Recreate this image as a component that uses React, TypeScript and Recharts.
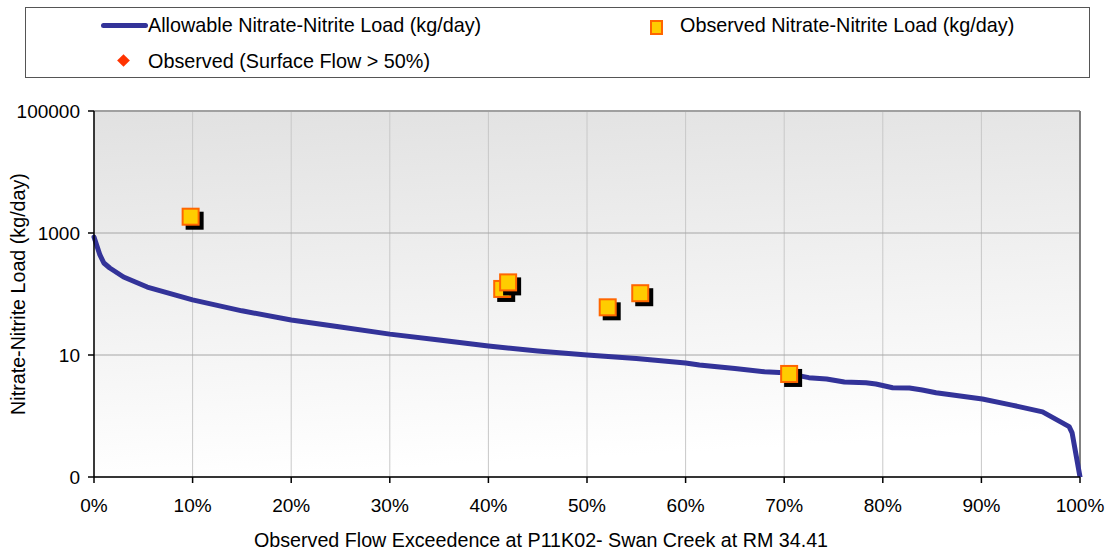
import React from "react";
import {
  ComposedChart,
  Line,
  Scatter,
  XAxis,
  YAxis,
  CartesianGrid,
  ReferenceLine,
} from "recharts";

// allowable load curve (flow exceedence fraction, kg/day)
const curvePct = [
  0, 0.003, 0.006, 0.01, 0.016, 0.03, 0.054, 0.1, 0.15, 0.2, 0.25, 0.3, 0.35, 0.4, 0.45, 0.5,
  0.55, 0.6, 0.614, 0.65, 0.68, 0.7, 0.725, 0.743, 0.761, 0.783, 0.793, 0.81, 0.827, 0.84,
  0.854, 0.901, 0.931, 0.962, 0.989, 0.992, 1.0,
];
const curveLoad = [
  859, 612, 437, 322, 267, 190, 130, 80, 53, 37.5, 28.8, 22, 17.6, 14, 11.6, 10,
  8.8, 7.4, 6.86, 6.0, 5.3, 5.1, 4.25, 4.05, 3.61, 3.51, 3.35, 2.91, 2.88, 2.67,
  2.41, 1.9, 1.51, 1.17, 0.67, 0.53, 0.1,
];

// observed loads
const obsPct = [0.098, 0.414, 0.42, 0.521, 0.554, 0.705];
const obsLoad = [1850, 121, 155, 60.5, 103, 4.89];

const xTicks = [0, 0.1, 0.2, 0.3, 0.4, 0.5, 0.6, 0.7, 0.8, 0.9, 1];
const yTicks = [0.1, 10, 1000, 100000];

const legendLabels = [
  "Allowable Nitrate-Nitrite Load (kg/day)",
  "Observed Nitrate-Nitrite Load (kg/day)",
  "Observed (Surface Flow > 50%)",
];

const curveData = curvePct.map((x, i) => ({ x, y: curveLoad[i] }));
const obsData = obsPct.map((x, i) => ({ x, y: obsLoad[i] }));

const FONT = "'Liberation Sans', Arial, sans-serif";

function ObsSquare(props: any) {
  const { cx, cy } = props;
  if (cx == null || cy == null) return null;
  return (
    <g>
      <rect x={cx - 5} y={cy - 5} width={18} height={18} fill="#000" />
      <rect x={cx - 8} y={cy - 8} width={16} height={16} fill="#FFCC00" stroke="#FF6600" strokeWidth={2} />
    </g>
  );
}

function LegendBox() {
  const txt: React.CSSProperties = {
    position: "absolute",
    fontSize: 19.8,
    color: "#000",
    whiteSpace: "nowrap",
    lineHeight: "22px",
  };
  return (
    <div
      style={{
        position: "absolute",
        left: 25,
        top: 7,
        width: 1063,
        height: 69,
        border: "1px solid #555",
        background: "#fff",
        fontFamily: FONT,
      }}
    >
      <div style={{ position: "absolute", left: 75, top: 15, width: 47, height: 5, borderRadius: 3, background: "#333399" }} />
      <div style={{ ...txt, left: 122, top: 6 }}>{legendLabels[0]}</div>
      <div style={{ position: "absolute", left: 624, top: 12, width: 9, height: 11, background: "#FFCC00", border: "2px solid #FF6600" }} />
      <div style={{ ...txt, left: 654, top: 6 }}>{legendLabels[1]}</div>
      <div
        style={{
          position: "absolute",
          left: 93,
          top: 48,
          width: 9,
          height: 9,
          background: "#FF3300",
          transform: "rotate(45deg)",
        }}
      />
      <div style={{ ...txt, left: 122, top: 42 }}>{legendLabels[2]}</div>
    </div>
  );
}

export default function App() {
  return (
    <div style={{ position: "relative", width: 1113, height: 552, background: "#fff", fontFamily: FONT }}>
      <style>{"body{margin:0}"}</style>
      <LegendBox />
      <ComposedChart width={1113} height={552} margin={{ top: 111, right: 33, bottom: 0, left: 0 }}>
        <defs>
          <linearGradient id="plotBg" x1="0" y1="0" x2="0.15" y2="1">
            <stop offset="0%" stopColor="#e1e1e1" />
            <stop offset="100%" stopColor="#ffffff" />
          </linearGradient>
        </defs>
        <CartesianGrid
          horizontal={false}
          stroke="#c8c8c8"
          fill="url(#plotBg)"
          fillOpacity={1}
        />
        <CartesianGrid vertical={false} stroke="#a6a6a6" />
        <XAxis
          type="number"
          dataKey="x"
          domain={[0, 1]}
          ticks={xTicks}
          tickFormatter={(v: number) => `${Math.round(v * 100)}%`}
          tick={{ fontSize: 19, fill: "#000", fontFamily: FONT }}
          tickSize={6}
          tickMargin={16}
          height={75}
          stroke="#000"
          strokeWidth={1.5}
          label={{
            value: "Observed Flow Exceedence at P11K02- Swan Creek at RM 34.41",
            position: "insideBottom",
            offset: 5,
            dx: -46,
            style: { fontSize: 19.7, fill: "#000", fontFamily: FONT },
          }}
        />
        <YAxis
          type="number"
          dataKey="y"
          scale="log"
          domain={[0.1, 100000]}
          allowDataOverflow
          ticks={yTicks}
          tickFormatter={(v: number) => (v < 1 ? "0" : String(v))}
          tick={{ fontSize: 19, fill: "#000", fontFamily: FONT }}
          tickSize={6}
          tickMargin={8}
          width={94}
          stroke="#000"
          strokeWidth={1.5}
          label={{
            value: "Nitrate-Nitrite Load (kg/day)",
            angle: -90,
            position: "center",
            dx: -29,
            style: { fontSize: 19.7, fill: "#000", fontFamily: FONT },
          }}
        />
        <ReferenceLine y={100000} stroke="#a0a0a0" strokeWidth={2} />
        <ReferenceLine x={1} stroke="#808080" strokeWidth={2} />
        <Line
          data={curveData}
          dataKey="y"
          type="linear"
          stroke="#333399"
          strokeWidth={5}
          dot={false}
          activeDot={false}
          strokeLinejoin="round"
          strokeLinecap="round"
          isAnimationActive={false}
        />
        <Scatter data={obsData} dataKey="y" shape={ObsSquare} isAnimationActive={false} />
      </ComposedChart>
    </div>
  );
}
